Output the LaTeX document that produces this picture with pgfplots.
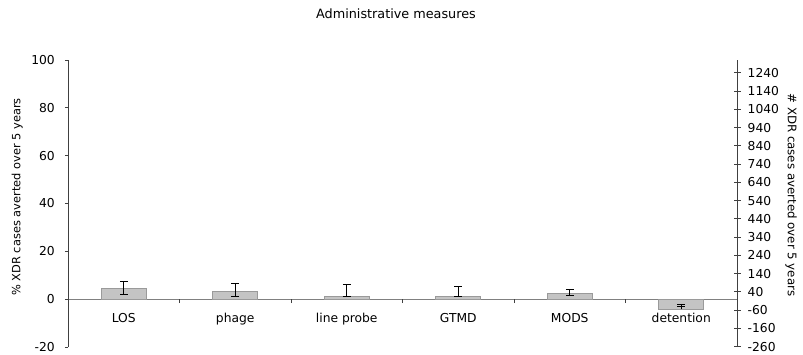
\documentclass[border=0pt]{standalone}
\usepackage{fontspec}
\setmainfont{DejaVu Sans}
\usepackage{pgfplots}
\pgfplotsset{compat=1.18}
\definecolor{barfill}{HTML}{C4C4C4}
\definecolor{bardraw}{HTML}{9A9A9A}
\definecolor{zeroline}{HTML}{808080}
\definecolor{axcol}{HTML}{404040}
\begin{document}
\fontsize{12}{14}\selectfont
\begin{tikzpicture}
\useasboundingbox (-68pt,-7pt) rectangle (735pt,347pt);
\begin{axis}[
  at={(0pt,0pt)}, anchor=south west,
  scale only axis, width=669pt, height=287pt,
  xmin=0.5, xmax=6.5, ymin=-20, ymax=100,
  axis x line=middle, axis y line=left,
  x axis line style={draw=zeroline, line width=1.2pt, -},
  y axis line style={draw=axcol, line width=0.8pt, -},
  xtick={1,2,3,4,5,6},
  xticklabels={LOS,phage,line probe,GTMD,MODS,detention},
  x tick style={draw=none},
  extra x ticks={1.5,2.5,3.5,4.5,5.5},
  extra x tick labels={},
  extra x tick style={x tick style={draw=axcol, line width=0.8pt}, major tick length=4pt, tick align=outside},
  xticklabel style={yshift=-7pt, font=\fontsize{12.3}{14}\selectfont},
  ytick={-20,0,20,40,60,80,100},
  y tick style={draw=axcol, line width=0.8pt},
  tick align=outside, major tick length=3pt,
  yticklabel style={font=\fontsize{12.3}{14}\selectfont, xshift=-6pt},
  /pgf/number format/assume math mode=true,
  ylabel={\% XDR cases averted over 5 years},
  ylabel style={at={(axis description cs:-0.076,0.523)}, anchor=center, rotate=0, font=\fontsize{11.4}{13}\selectfont},
  clip=false,
]
\addplot[ybar, bar width=45pt, fill=barfill, draw=bardraw, line width=0.8pt,
  error bars/.cd, y dir=both, y explicit,
  error bar style={black, line width=0.8pt},
  error mark options={black, rotate=90, mark size=4pt, line width=0.8pt}]
coordinates {
 (1,4.3) += (0,3.0) -= (0,2.1)
 (2,3.2) += (0,3.2) -= (0,2.0)
 (3,1.2) += (0,5.1) -= (0,0.0)
 (4,1.2) += (0,4.2) -= (0,0.0)
 (5,2.3) += (0,1.8) -= (0,0.9)
 (6,-4.2) += (0,2.2) -= (0,-1.0)
};
\end{axis}
\begin{axis}[
  at={(0pt,0pt)}, anchor=south west,
  scale only axis, width=669pt, height=287pt,
  xmin=0.5, xmax=6.5, ymin=-262, ymax=1310,
  axis x line=none, axis y line*=right,
  y axis line style={draw=axcol, line width=0.8pt, -},
  ytick={-260,-160,...,1240},
  y tick style={draw=axcol, line width=0.8pt},
  tick align=center, major tick length=7pt,
  yticklabel style={font=\fontsize{12.3}{14}\selectfont, xshift=3pt},
  /pgf/number format/assume math mode=true,
  /pgf/number format/1000 sep={},
  ylabel={\# XDR cases averted over 5 years},
  ylabel style={at={(axis description cs:1.081,0.53)}, anchor=center, rotate=180, font=\fontsize{11.8}{14}\selectfont},
]
\end{axis}
\node[font=\fontsize{12.8}{15}\selectfont] at (328pt,333pt) {Administrative measures};
\end{tikzpicture}
\end{document}
